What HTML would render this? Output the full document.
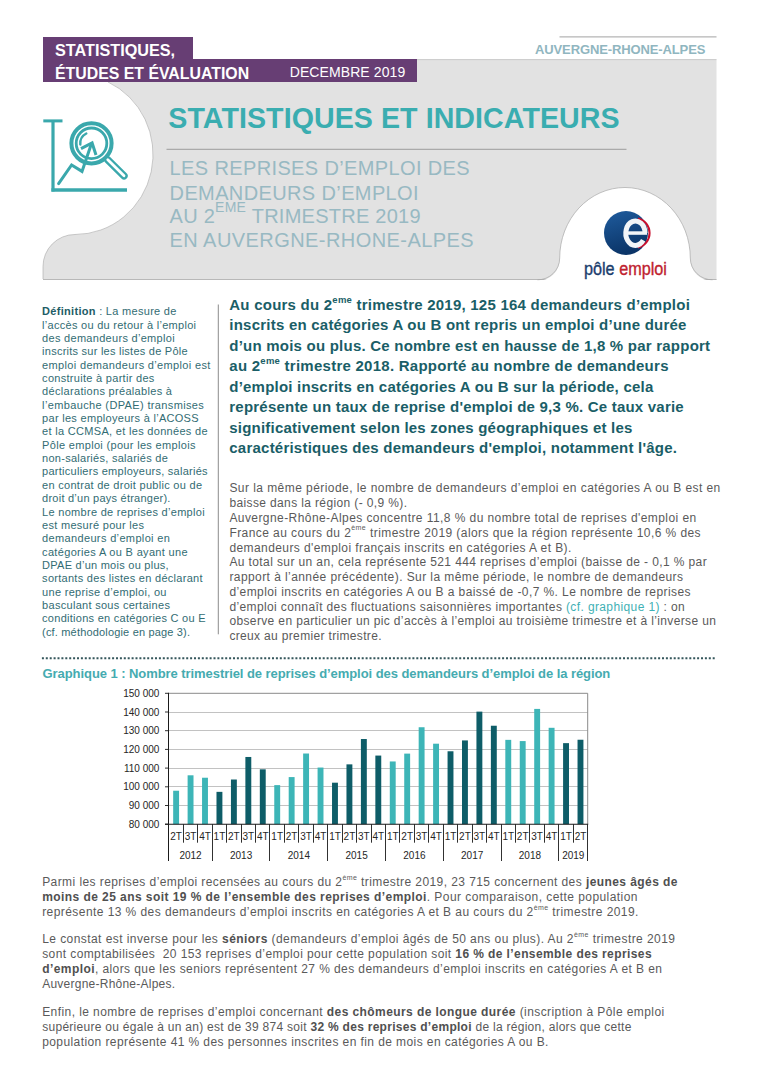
<!DOCTYPE html>
<html><head><meta charset="utf-8">
<style>
html,body{margin:0;padding:0;background:#fff;}
body{width:768px;height:1087px;position:relative;overflow:hidden;font-family:"Liberation Sans",sans-serif;}
.ln{position:absolute;white-space:nowrap;line-height:0;}
.ln b{font-weight:bold;}
.bot b{color:#505050;}
.sup{position:relative;}
svg{position:absolute;left:0;top:0;}
</style></head><body>
<svg width="768" height="1087" viewBox="0 0 768 1087" style="z-index:0">
<defs>
<linearGradient id="blu" x1="0" y1="0" x2="0.3" y2="1">
<stop offset="0" stop-color="#1f5c9e"/><stop offset="1" stop-color="#0b3568"/>
</linearGradient>
</defs>
<!-- gray band -->
<rect x="43" y="59.5" width="673.5" height="220.5" fill="#e2e2e2"/>
<line x1="43" y1="279.5" x2="716.5" y2="279.5" stroke="#b8b8b8" stroke-width="1"/>
<line x1="417" y1="59.6" x2="716.5" y2="59.6" stroke="#cacaca" stroke-width="1"/>
<!-- left white blob -->
<path d="M 0 82 L 108 82 A 78 80 0 0 1 75 234.5 A 32 32 0 0 0 43 266.5 L 43 281 L 0 281 Z" fill="#fff"/>
<path d="M 108 82 A 78 80 0 0 1 75 234.5 A 32 32 0 0 0 43 266.5 L 43 279" fill="none" stroke="#a8a8a8" stroke-width="0.6"/>
<!-- right dome -->
<path d="M 537.5 281 A 22 22 0 0 0 559.7 258 A 65.3 70.5 0 0 1 690.3 258 A 22 22 0 0 0 712.5 281 Z" fill="#fff"/>
<path d="M 537.5 279.8 A 22 21.8 0 0 0 559.7 258 A 65.3 70.5 0 0 1 690.3 258 A 22 21.8 0 0 0 712.5 279.8" fill="none" stroke="#a8a8a8" stroke-width="0.7"/>
<!-- purple header -->
<rect x="43" y="37" width="150" height="23" fill="#673e74"/>
<rect x="43" y="59" width="374" height="23" fill="#673e74"/>
<!-- top right line -->
<line x1="559.5" y1="36.8" x2="716.5" y2="36.8" stroke="#b5b5b5" stroke-width="1.2"/>
<!-- title rule -->
<line x1="166.5" y1="149.3" x2="626.5" y2="149.3" stroke="#8c8c8c" stroke-width="0.8"/>
<!-- vertical divider -->
<line x1="218.3" y1="304.5" x2="218.3" y2="634.3" stroke="#6e6e6e" stroke-width="0.8"/>
<!-- dotted line -->
<line x1="41.9" y1="658.3" x2="715.5" y2="658.3" stroke="#34565b" stroke-width="2" stroke-dasharray="2 1.9"/>
<g fill="none" stroke="#3aa8ac" stroke-linecap="butt">
<line x1="43.3" y1="120.9" x2="62.5" y2="120.9" stroke-width="3"/>
<line x1="53" y1="120.9" x2="53" y2="191.5" stroke-width="3.2"/>
<line x1="51.4" y1="190" x2="127" y2="190" stroke-width="3.3"/>
<circle cx="91.5" cy="143.3" r="20.1" stroke-width="4"/>
<circle cx="91.5" cy="143.3" r="15.3" stroke-width="2.8"/>
<path d="M 80.3 144.5 A 11.3 11.3 0 0 1 86.3 133.5" stroke-width="2.4" stroke-linecap="round"/>
<polyline points="58.6,183.6 71.6,165 82,171.4 91,145" stroke-width="3" stroke-linejoin="miter" stroke-linecap="round"/>
<polyline points="81,148.7 92.1,143 96,155" stroke-width="3" stroke-linejoin="miter"/>
<path d="M 107.8 159.8 L 124 175.8" stroke-width="7.4" stroke-linecap="round"/>
<path d="M 107.8 159.8 L 124 175.8" stroke="#fff" stroke-width="2.8" stroke-linecap="round"/>
</g>
<g>
<circle cx="626" cy="233" r="22" fill="url(#blu)"/>
<path d="M 638 218.5 A 14.5 14.8 0 0 1 638 247.5" fill="none" stroke="#c8102e" stroke-width="2"/>
<path d="M 645 233 A 9.6 12.2 0 1 0 643.2 240.3" fill="none" stroke="#f2f5f8" stroke-width="5"/>
<rect x="628" y="231.3" width="19" height="3.5" fill="#f2f5f8"/>
</g>
</svg>
<div style="position:absolute;left:584px;top:268.8px;font-size:18px;line-height:0;white-space:nowrap;transform:scaleX(0.9);transform-origin:0 0;-webkit-text-stroke:0.35px"><span style="color:#1b3d6d;-webkit-text-stroke-color:#1b3d6d">pôle</span> <span style="color:#c0222f;-webkit-text-stroke-color:#c0222f">emploi</span></div>
<svg width="768" height="1087" viewBox="0 0 768 1087" style="z-index:1">
<line x1="168.9" y1="805.50" x2="587.7" y2="805.50" stroke="#b3b3b3" stroke-width="0.8"/>
<line x1="168.9" y1="786.50" x2="587.7" y2="786.50" stroke="#b3b3b3" stroke-width="0.8"/>
<line x1="168.9" y1="768.50" x2="587.7" y2="768.50" stroke="#b3b3b3" stroke-width="0.8"/>
<line x1="168.9" y1="749.50" x2="587.7" y2="749.50" stroke="#b3b3b3" stroke-width="0.8"/>
<line x1="168.9" y1="730.50" x2="587.7" y2="730.50" stroke="#b3b3b3" stroke-width="0.8"/>
<line x1="168.9" y1="712.50" x2="587.7" y2="712.50" stroke="#b3b3b3" stroke-width="0.8"/>
<line x1="168.9" y1="693.3" x2="587.7" y2="693.3" stroke="#8a8a8a" stroke-width="1"/>
<line x1="587.7" y1="693.3" x2="587.7" y2="824.2" stroke="#8a8a8a" stroke-width="1"/>
<rect x="173.17" y="790.73" width="5.9" height="33.47" fill="#3db5b7"/>
<rect x="187.61" y="775.30" width="5.9" height="48.90" fill="#3db5b7"/>
<rect x="202.05" y="777.73" width="5.9" height="46.47" fill="#3db5b7"/>
<rect x="216.49" y="791.85" width="5.9" height="32.35" fill="#0e5d68"/>
<rect x="230.94" y="779.51" width="5.9" height="44.69" fill="#0e5d68"/>
<rect x="245.38" y="756.97" width="5.9" height="67.23" fill="#0e5d68"/>
<rect x="259.82" y="769.32" width="5.9" height="54.88" fill="#0e5d68"/>
<rect x="274.26" y="785.12" width="5.9" height="39.08" fill="#3db5b7"/>
<rect x="288.70" y="777.08" width="5.9" height="47.12" fill="#3db5b7"/>
<rect x="303.14" y="753.51" width="5.9" height="70.69" fill="#3db5b7"/>
<rect x="317.58" y="767.54" width="5.9" height="56.66" fill="#3db5b7"/>
<rect x="332.03" y="782.69" width="5.9" height="41.51" fill="#0e5d68"/>
<rect x="346.47" y="764.36" width="5.9" height="59.84" fill="#0e5d68"/>
<rect x="360.91" y="739.02" width="5.9" height="85.18" fill="#0e5d68"/>
<rect x="375.35" y="755.57" width="5.9" height="68.63" fill="#0e5d68"/>
<rect x="389.79" y="761.46" width="5.9" height="62.74" fill="#3db5b7"/>
<rect x="404.23" y="753.61" width="5.9" height="70.59" fill="#3db5b7"/>
<rect x="418.67" y="727.24" width="5.9" height="96.96" fill="#3db5b7"/>
<rect x="433.12" y="743.70" width="5.9" height="80.50" fill="#3db5b7"/>
<rect x="447.56" y="751.27" width="5.9" height="72.93" fill="#0e5d68"/>
<rect x="462.00" y="740.42" width="5.9" height="83.78" fill="#0e5d68"/>
<rect x="476.44" y="711.63" width="5.9" height="112.57" fill="#0e5d68"/>
<rect x="490.88" y="725.74" width="5.9" height="98.46" fill="#0e5d68"/>
<rect x="505.32" y="739.86" width="5.9" height="84.34" fill="#3db5b7"/>
<rect x="519.76" y="741.08" width="5.9" height="83.12" fill="#3db5b7"/>
<rect x="534.21" y="708.91" width="5.9" height="115.29" fill="#3db5b7"/>
<rect x="548.65" y="727.80" width="5.9" height="96.40" fill="#3db5b7"/>
<rect x="563.09" y="743.14" width="5.9" height="81.06" fill="#0e5d68"/>
<rect x="577.53" y="739.74" width="5.9" height="84.46" fill="#0e5d68"/>
<line x1="168.5" y1="692.8" x2="168.5" y2="861" stroke="#1a1a1a" stroke-width="1"/>
<line x1="165" y1="824.20" x2="168.9" y2="824.20" stroke="#1a1a1a" stroke-width="0.9"/>
<line x1="165" y1="805.50" x2="168.9" y2="805.50" stroke="#1a1a1a" stroke-width="0.9"/>
<line x1="165" y1="786.80" x2="168.9" y2="786.80" stroke="#1a1a1a" stroke-width="0.9"/>
<line x1="165" y1="768.10" x2="168.9" y2="768.10" stroke="#1a1a1a" stroke-width="0.9"/>
<line x1="165" y1="749.40" x2="168.9" y2="749.40" stroke="#1a1a1a" stroke-width="0.9"/>
<line x1="165" y1="730.70" x2="168.9" y2="730.70" stroke="#1a1a1a" stroke-width="0.9"/>
<line x1="165" y1="712.00" x2="168.9" y2="712.00" stroke="#1a1a1a" stroke-width="0.9"/>
<line x1="165" y1="693.30" x2="168.9" y2="693.30" stroke="#1a1a1a" stroke-width="0.9"/>
<line x1="165" y1="824.2" x2="588.2" y2="824.2" stroke="#1a1a1a" stroke-width="1.1"/>
<line x1="183.50" y1="824.2" x2="183.50" y2="842.7" stroke="#1a1a1a" stroke-width="0.9"/>
<line x1="197.50" y1="824.2" x2="197.50" y2="842.7" stroke="#1a1a1a" stroke-width="0.9"/>
<line x1="212.50" y1="824.2" x2="212.50" y2="861" stroke="#1a1a1a" stroke-width="0.9"/>
<line x1="226.50" y1="824.2" x2="226.50" y2="842.7" stroke="#1a1a1a" stroke-width="0.9"/>
<line x1="241.50" y1="824.2" x2="241.50" y2="842.7" stroke="#1a1a1a" stroke-width="0.9"/>
<line x1="255.50" y1="824.2" x2="255.50" y2="842.7" stroke="#1a1a1a" stroke-width="0.9"/>
<line x1="269.50" y1="824.2" x2="269.50" y2="861" stroke="#1a1a1a" stroke-width="0.9"/>
<line x1="284.50" y1="824.2" x2="284.50" y2="842.7" stroke="#1a1a1a" stroke-width="0.9"/>
<line x1="298.50" y1="824.2" x2="298.50" y2="842.7" stroke="#1a1a1a" stroke-width="0.9"/>
<line x1="313.50" y1="824.2" x2="313.50" y2="842.7" stroke="#1a1a1a" stroke-width="0.9"/>
<line x1="327.50" y1="824.2" x2="327.50" y2="861" stroke="#1a1a1a" stroke-width="0.9"/>
<line x1="342.50" y1="824.2" x2="342.50" y2="842.7" stroke="#1a1a1a" stroke-width="0.9"/>
<line x1="356.50" y1="824.2" x2="356.50" y2="842.7" stroke="#1a1a1a" stroke-width="0.9"/>
<line x1="371.50" y1="824.2" x2="371.50" y2="842.7" stroke="#1a1a1a" stroke-width="0.9"/>
<line x1="385.50" y1="824.2" x2="385.50" y2="861" stroke="#1a1a1a" stroke-width="0.9"/>
<line x1="399.50" y1="824.2" x2="399.50" y2="842.7" stroke="#1a1a1a" stroke-width="0.9"/>
<line x1="414.50" y1="824.2" x2="414.50" y2="842.7" stroke="#1a1a1a" stroke-width="0.9"/>
<line x1="428.50" y1="824.2" x2="428.50" y2="842.7" stroke="#1a1a1a" stroke-width="0.9"/>
<line x1="443.50" y1="824.2" x2="443.50" y2="861" stroke="#1a1a1a" stroke-width="0.9"/>
<line x1="457.50" y1="824.2" x2="457.50" y2="842.7" stroke="#1a1a1a" stroke-width="0.9"/>
<line x1="472.50" y1="824.2" x2="472.50" y2="842.7" stroke="#1a1a1a" stroke-width="0.9"/>
<line x1="486.50" y1="824.2" x2="486.50" y2="842.7" stroke="#1a1a1a" stroke-width="0.9"/>
<line x1="501.50" y1="824.2" x2="501.50" y2="861" stroke="#1a1a1a" stroke-width="0.9"/>
<line x1="515.50" y1="824.2" x2="515.50" y2="842.7" stroke="#1a1a1a" stroke-width="0.9"/>
<line x1="529.50" y1="824.2" x2="529.50" y2="842.7" stroke="#1a1a1a" stroke-width="0.9"/>
<line x1="544.50" y1="824.2" x2="544.50" y2="842.7" stroke="#1a1a1a" stroke-width="0.9"/>
<line x1="558.50" y1="824.2" x2="558.50" y2="861" stroke="#1a1a1a" stroke-width="0.9"/>
<line x1="573.50" y1="824.2" x2="573.50" y2="842.7" stroke="#1a1a1a" stroke-width="0.9"/>
<line x1="587.50" y1="824.2" x2="587.50" y2="861" stroke="#1a1a1a" stroke-width="0.9"/>
<text x="176.12" y="839.9" font-size="10" text-anchor="middle" fill="#262626" font-family="Liberation Sans">2T</text>
<text x="190.56" y="839.9" font-size="10" text-anchor="middle" fill="#262626" font-family="Liberation Sans">3T</text>
<text x="205.00" y="839.9" font-size="10" text-anchor="middle" fill="#262626" font-family="Liberation Sans">4T</text>
<text x="219.44" y="839.9" font-size="10" text-anchor="middle" fill="#262626" font-family="Liberation Sans">1T</text>
<text x="233.89" y="839.9" font-size="10" text-anchor="middle" fill="#262626" font-family="Liberation Sans">2T</text>
<text x="248.33" y="839.9" font-size="10" text-anchor="middle" fill="#262626" font-family="Liberation Sans">3T</text>
<text x="262.77" y="839.9" font-size="10" text-anchor="middle" fill="#262626" font-family="Liberation Sans">4T</text>
<text x="277.21" y="839.9" font-size="10" text-anchor="middle" fill="#262626" font-family="Liberation Sans">1T</text>
<text x="291.65" y="839.9" font-size="10" text-anchor="middle" fill="#262626" font-family="Liberation Sans">2T</text>
<text x="306.09" y="839.9" font-size="10" text-anchor="middle" fill="#262626" font-family="Liberation Sans">3T</text>
<text x="320.53" y="839.9" font-size="10" text-anchor="middle" fill="#262626" font-family="Liberation Sans">4T</text>
<text x="334.98" y="839.9" font-size="10" text-anchor="middle" fill="#262626" font-family="Liberation Sans">1T</text>
<text x="349.42" y="839.9" font-size="10" text-anchor="middle" fill="#262626" font-family="Liberation Sans">2T</text>
<text x="363.86" y="839.9" font-size="10" text-anchor="middle" fill="#262626" font-family="Liberation Sans">3T</text>
<text x="378.30" y="839.9" font-size="10" text-anchor="middle" fill="#262626" font-family="Liberation Sans">4T</text>
<text x="392.74" y="839.9" font-size="10" text-anchor="middle" fill="#262626" font-family="Liberation Sans">1T</text>
<text x="407.18" y="839.9" font-size="10" text-anchor="middle" fill="#262626" font-family="Liberation Sans">2T</text>
<text x="421.62" y="839.9" font-size="10" text-anchor="middle" fill="#262626" font-family="Liberation Sans">3T</text>
<text x="436.07" y="839.9" font-size="10" text-anchor="middle" fill="#262626" font-family="Liberation Sans">4T</text>
<text x="450.51" y="839.9" font-size="10" text-anchor="middle" fill="#262626" font-family="Liberation Sans">1T</text>
<text x="464.95" y="839.9" font-size="10" text-anchor="middle" fill="#262626" font-family="Liberation Sans">2T</text>
<text x="479.39" y="839.9" font-size="10" text-anchor="middle" fill="#262626" font-family="Liberation Sans">3T</text>
<text x="493.83" y="839.9" font-size="10" text-anchor="middle" fill="#262626" font-family="Liberation Sans">4T</text>
<text x="508.27" y="839.9" font-size="10" text-anchor="middle" fill="#262626" font-family="Liberation Sans">1T</text>
<text x="522.71" y="839.9" font-size="10" text-anchor="middle" fill="#262626" font-family="Liberation Sans">2T</text>
<text x="537.16" y="839.9" font-size="10" text-anchor="middle" fill="#262626" font-family="Liberation Sans">3T</text>
<text x="551.60" y="839.9" font-size="10" text-anchor="middle" fill="#262626" font-family="Liberation Sans">4T</text>
<text x="566.04" y="839.9" font-size="10" text-anchor="middle" fill="#262626" font-family="Liberation Sans">1T</text>
<text x="580.48" y="839.9" font-size="10" text-anchor="middle" fill="#262626" font-family="Liberation Sans">2T</text>
<text x="190.56" y="858.8" font-size="10" text-anchor="middle" fill="#262626" font-family="Liberation Sans">2012</text>
<text x="241.11" y="858.8" font-size="10" text-anchor="middle" fill="#262626" font-family="Liberation Sans">2013</text>
<text x="298.87" y="858.8" font-size="10" text-anchor="middle" fill="#262626" font-family="Liberation Sans">2014</text>
<text x="356.64" y="858.8" font-size="10" text-anchor="middle" fill="#262626" font-family="Liberation Sans">2015</text>
<text x="414.40" y="858.8" font-size="10" text-anchor="middle" fill="#262626" font-family="Liberation Sans">2016</text>
<text x="472.17" y="858.8" font-size="10" text-anchor="middle" fill="#262626" font-family="Liberation Sans">2017</text>
<text x="529.93" y="858.8" font-size="10" text-anchor="middle" fill="#262626" font-family="Liberation Sans">2018</text>
<text x="573.26" y="858.8" font-size="10" text-anchor="middle" fill="#262626" font-family="Liberation Sans">2019</text>
<text x="159.4" y="827.80" font-size="10" text-anchor="end" fill="#262626" font-family="Liberation Sans">80 000</text>
<text x="159.4" y="809.10" font-size="10" text-anchor="end" fill="#262626" font-family="Liberation Sans">90 000</text>
<text x="159.4" y="790.40" font-size="10" text-anchor="end" fill="#262626" font-family="Liberation Sans">100 000</text>
<text x="159.4" y="771.70" font-size="10" text-anchor="end" fill="#262626" font-family="Liberation Sans">110 000</text>
<text x="159.4" y="753.00" font-size="10" text-anchor="end" fill="#262626" font-family="Liberation Sans">120 000</text>
<text x="159.4" y="734.30" font-size="10" text-anchor="end" fill="#262626" font-family="Liberation Sans">130 000</text>
<text x="159.4" y="715.60" font-size="10" text-anchor="end" fill="#262626" font-family="Liberation Sans">140 000</text>
<text x="159.4" y="696.90" font-size="10" text-anchor="end" fill="#262626" font-family="Liberation Sans">150 000</text>
</svg>
<div class="ln " id="l0" style="left:42.1px;top:311.29px;font-size:11px;color:#326c73;letter-spacing:0.298px;z-index:2"><b style="color:#1e5d66">Définition</b> : La mesure de</div>
<div class="ln " id="l1" style="left:42.1px;top:324.64px;font-size:11px;color:#326c73;letter-spacing:0.279px;z-index:2">l’accès ou du retour à l’emploi</div>
<div class="ln " id="l2" style="left:42.1px;top:337.99px;font-size:11px;color:#326c73;letter-spacing:0.297px;z-index:2">des demandeurs d’emploi</div>
<div class="ln " id="l3" style="left:42.1px;top:351.34px;font-size:11px;color:#326c73;letter-spacing:0.244px;z-index:2">inscrits sur les listes de Pôle</div>
<div class="ln " id="l4" style="left:42.1px;top:364.69px;font-size:11px;color:#326c73;letter-spacing:0.339px;z-index:2">emploi demandeurs d’emploi est</div>
<div class="ln " id="l5" style="left:42.1px;top:378.04px;font-size:11px;color:#326c73;letter-spacing:0.292px;z-index:2">construite à partir des</div>
<div class="ln " id="l6" style="left:42.1px;top:391.39px;font-size:11px;color:#326c73;letter-spacing:0.316px;z-index:2">déclarations préalables à</div>
<div class="ln " id="l7" style="left:42.1px;top:404.74px;font-size:11px;color:#326c73;letter-spacing:0.359px;z-index:2">l’embauche (DPAE) transmises</div>
<div class="ln " id="l8" style="left:42.1px;top:418.09px;font-size:11px;color:#326c73;letter-spacing:0.294px;z-index:2">par les employeurs à l’ACOSS</div>
<div class="ln " id="l9" style="left:42.1px;top:431.44px;font-size:11px;color:#326c73;letter-spacing:0.309px;z-index:2">et la CCMSA, et les données de</div>
<div class="ln " id="l10" style="left:42.1px;top:444.79px;font-size:11px;color:#326c73;letter-spacing:0.322px;z-index:2">Pôle emploi (pour les emplois</div>
<div class="ln " id="l11" style="left:42.1px;top:458.14px;font-size:11px;color:#326c73;letter-spacing:0.269px;z-index:2">non-salariés, salariés de</div>
<div class="ln " id="l12" style="left:42.1px;top:471.49px;font-size:11px;color:#326c73;letter-spacing:0.262px;z-index:2">particuliers employeurs, salariés</div>
<div class="ln " id="l13" style="left:42.1px;top:484.84px;font-size:11px;color:#326c73;letter-spacing:0.286px;z-index:2">en contrat de droit public ou de</div>
<div class="ln " id="l14" style="left:42.1px;top:498.19px;font-size:11px;color:#326c73;letter-spacing:0.240px;z-index:2">droit d’un pays étranger).</div>
<div class="ln " id="l15" style="left:42.1px;top:511.54px;font-size:11px;color:#326c73;letter-spacing:0.290px;z-index:2">Le nombre de reprises d’emploi</div>
<div class="ln " id="l16" style="left:42.1px;top:524.89px;font-size:11px;color:#326c73;letter-spacing:0.288px;z-index:2">est mesuré pour les</div>
<div class="ln " id="l17" style="left:42.1px;top:538.24px;font-size:11px;color:#326c73;letter-spacing:0.349px;z-index:2">demandeurs d’emploi en</div>
<div class="ln " id="l18" style="left:42.1px;top:551.59px;font-size:11px;color:#326c73;letter-spacing:0.327px;z-index:2">catégories A ou B ayant une</div>
<div class="ln " id="l19" style="left:42.1px;top:564.94px;font-size:11px;color:#326c73;letter-spacing:0.256px;z-index:2">DPAE d’un mois ou plus,</div>
<div class="ln " id="l20" style="left:42.1px;top:578.29px;font-size:11px;color:#326c73;letter-spacing:0.283px;z-index:2">sortants des listes en déclarant</div>
<div class="ln " id="l21" style="left:42.1px;top:591.64px;font-size:11px;color:#326c73;letter-spacing:0.304px;z-index:2">une reprise d’emploi, ou</div>
<div class="ln " id="l22" style="left:42.1px;top:604.99px;font-size:11px;color:#326c73;letter-spacing:0.292px;z-index:2">basculant sous certaines</div>
<div class="ln " id="l23" style="left:42.1px;top:618.34px;font-size:11px;color:#326c73;letter-spacing:0.272px;z-index:2">conditions en catégories C ou E</div>
<div class="ln " id="l24" style="left:42.1px;top:631.69px;font-size:11px;color:#326c73;letter-spacing:0.172px;z-index:2">(cf. méthodologie en page 3).</div>
<div class="ln " id="l25" style="left:229.3px;top:304.80px;font-size:15px;color:#1a5e67;font-weight:bold;letter-spacing:0.234px;z-index:2">Au cours du 2<span class="sup" style="font-size:9.5px;top:-7.3px">eme</span> trimestre 2019, 125 164 demandeurs d’emploi</div>
<div class="ln " id="l26" style="left:229.3px;top:325.30px;font-size:15px;color:#1a5e67;font-weight:bold;letter-spacing:0.229px;z-index:2">inscrits en catégories A ou B ont repris un emploi d’une durée</div>
<div class="ln " id="l27" style="left:229.3px;top:345.80px;font-size:15px;color:#1a5e67;font-weight:bold;letter-spacing:0.226px;z-index:2">d’un mois ou plus. Ce nombre est en hausse de 1,8 % par rapport</div>
<div class="ln " id="l28" style="left:229.3px;top:366.30px;font-size:15px;color:#1a5e67;font-weight:bold;letter-spacing:0.258px;z-index:2">au 2<span class="sup" style="font-size:9.5px;top:-7.3px">eme</span> trimestre 2018. Rapporté au nombre de demandeurs</div>
<div class="ln " id="l29" style="left:229.3px;top:386.80px;font-size:15px;color:#1a5e67;font-weight:bold;letter-spacing:0.214px;z-index:2">d’emploi inscrits en catégories A ou B sur la période, cela</div>
<div class="ln " id="l30" style="left:229.3px;top:407.30px;font-size:15px;color:#1a5e67;font-weight:bold;letter-spacing:0.216px;z-index:2">représente un taux de reprise d'emploi de 9,3 %. Ce taux varie</div>
<div class="ln " id="l31" style="left:229.3px;top:427.80px;font-size:15px;color:#1a5e67;font-weight:bold;letter-spacing:0.212px;z-index:2">significativement selon les zones géographiques et les</div>
<div class="ln " id="l32" style="left:229.3px;top:448.30px;font-size:15px;color:#1a5e67;font-weight:bold;letter-spacing:0.225px;z-index:2">caractéristiques des demandeurs d'emploi, notamment l'âge.</div>
<div class="ln " id="l33" style="left:229.4px;top:488.34px;font-size:12px;color:#5a5a5a;letter-spacing:0.441px;z-index:2">Sur la même période, le nombre de demandeurs d’emploi en catégories A ou B est en</div>
<div class="ln " id="l34" style="left:229.4px;top:503.13px;font-size:12px;color:#5a5a5a;letter-spacing:0.371px;z-index:2">baisse dans la région (- 0,9 %).</div>
<div class="ln " id="l35" style="left:229.4px;top:517.92px;font-size:12px;color:#5a5a5a;letter-spacing:0.427px;z-index:2">Auvergne-Rhône-Alpes concentre 11,8 % du nombre total de reprises d'emploi en</div>
<div class="ln " id="l36" style="left:229.4px;top:532.71px;font-size:12px;color:#5a5a5a;letter-spacing:0.425px;z-index:2">France au cours du 2<span class="sup" style="font-size:7px;top:-6.3px">ème</span> trimestre 2019 (alors que la région représente 10,6 % des</div>
<div class="ln " id="l37" style="left:229.4px;top:547.50px;font-size:12px;color:#5a5a5a;letter-spacing:0.409px;z-index:2">demandeurs d'emploi français inscrits en catégories A et B).</div>
<div class="ln " id="l38" style="left:229.4px;top:562.29px;font-size:12px;color:#5a5a5a;letter-spacing:0.390px;z-index:2">Au total sur un an, cela représente 521 444 reprises d’emploi (baisse de - 0,1 % par</div>
<div class="ln " id="l39" style="left:229.4px;top:577.08px;font-size:12px;color:#5a5a5a;letter-spacing:0.424px;z-index:2">rapport à l’année précédente). Sur la même période, le nombre de demandeurs</div>
<div class="ln " id="l40" style="left:229.4px;top:591.87px;font-size:12px;color:#5a5a5a;letter-spacing:0.416px;z-index:2">d’emploi inscrits en catégories A ou B a baissé de -0,7 %. Le nombre de reprises</div>
<div class="ln " id="l41" style="left:229.4px;top:606.66px;font-size:12px;color:#5a5a5a;letter-spacing:0.380px;z-index:2">d’emploi connaît des fluctuations saisonnières importantes <span style="color:#3fb1b5">(cf. graphique 1)</span> : on</div>
<div class="ln " id="l42" style="left:229.4px;top:621.45px;font-size:12px;color:#5a5a5a;letter-spacing:0.367px;z-index:2">observe en particulier un pic d’accès à l’emploi au troisième trimestre et à l’inverse un</div>
<div class="ln " id="l43" style="left:229.4px;top:636.24px;font-size:12px;color:#5a5a5a;letter-spacing:0.336px;z-index:2">creux au premier trimestre.</div>
<div class="ln bot" id="l44" style="left:42.2px;top:882.14px;font-size:12px;color:#5a5a5a;letter-spacing:0.421px;z-index:2">Parmi les reprises d’emploi recensées au cours du 2<span class="sup" style="font-size:7px;top:-6.3px">ème</span> trimestre 2019, 23 715 concernent des <b>jeunes âgés de</b></div>
<div class="ln bot" id="l45" style="left:42.2px;top:897.14px;font-size:12px;color:#5a5a5a;letter-spacing:0.434px;z-index:2"><b>moins de 25 ans soit 19 % de l’ensemble des reprises d’emploi</b>. Pour comparaison, cette population</div>
<div class="ln bot" id="l46" style="left:42.2px;top:912.14px;font-size:12px;color:#5a5a5a;letter-spacing:0.432px;z-index:2">représente 13 % des demandeurs d’emploi inscrits en catégories A et B au cours du 2<span class="sup" style="font-size:7px;top:-6.3px">ème</span> trimestre 2019.</div>
<div class="ln bot" id="l47" style="left:42.2px;top:939.04px;font-size:12px;color:#5a5a5a;letter-spacing:0.431px;z-index:2">Le constat est inverse pour les <b>séniors</b> (demandeurs d’emploi âgés de 50 ans ou plus). Au 2<span class="sup" style="font-size:7px;top:-6.3px">ème</span> trimestre 2019</div>
<div class="ln bot" id="l48" style="left:42.2px;top:953.94px;font-size:12px;color:#5a5a5a;letter-spacing:0.405px;z-index:2">sont comptabilisées &nbsp;20 153 reprises d’emploi pour cette population soit <b>16 % de l’ensemble des reprises</b></div>
<div class="ln bot" id="l49" style="left:42.2px;top:968.84px;font-size:12px;color:#5a5a5a;letter-spacing:0.420px;z-index:2"><b>d’emploi</b>, alors que les seniors représentent 27 % des demandeurs d’emploi inscrits en catégories A et B en</div>
<div class="ln bot" id="l50" style="left:42.2px;top:983.74px;font-size:12px;color:#5a5a5a;letter-spacing:0.241px;z-index:2">Auvergne-Rhône-Alpes.</div>
<div class="ln bot" id="l51" style="left:42.2px;top:1011.84px;font-size:12px;color:#5a5a5a;letter-spacing:0.418px;z-index:2">Enfin, le nombre de reprises d’emploi concernant <b>des chômeurs de longue durée</b> (inscription à Pôle emploi</div>
<div class="ln bot" id="l52" style="left:42.2px;top:1026.74px;font-size:12px;color:#5a5a5a;letter-spacing:0.280px;z-index:2">supérieure ou égale à un an) est de 39 874 soit <b>32 % des reprises d’emploi</b> de la région, alors que cette</div>
<div class="ln bot" id="l53" style="left:42.2px;top:1041.64px;font-size:12px;color:#5a5a5a;letter-spacing:0.410px;z-index:2">population représente 41 % des personnes inscrites en fin de mois en catégories A ou B.</div>
<div class="ln " id="l54" style="left:169.6px;top:168.47px;font-size:20px;color:#98b9c2;letter-spacing:0.367px;z-index:2">LES REPRISES D’EMPLOI DES</div>
<div class="ln " id="l55" style="left:169.6px;top:192.67px;font-size:20px;color:#98b9c2;letter-spacing:0.374px;z-index:2">DEMANDEURS D’EMPLOI</div>
<div class="ln " id="l56" style="left:169.6px;top:216.17px;font-size:20px;color:#98b9c2;letter-spacing:0.256px;z-index:2">AU 2<span class="sup" style="font-size:14px;top:-10.8px">EME</span> TRIMESTRE 2019</div>
<div class="ln " id="l57" style="left:169.6px;top:239.57px;font-size:20px;color:#98b9c2;letter-spacing:0.431px;z-index:2">EN AUVERGNE-RHONE-ALPES</div>
<div class="ln " id="l58" style="left:55px;top:50.34px;font-size:17.2px;color:#fff;font-weight:bold;transform:scaleX(0.9432);transform-origin:0 0;z-index:2">STATISTIQUES,</div>
<div class="ln " id="l59" style="left:55px;top:72.74px;font-size:17.2px;color:#fff;font-weight:bold;transform:scaleX(0.9225);transform-origin:0 0;z-index:2">ÉTUDES ET ÉVALUATION</div>
<div class="ln " id="l60" style="left:289.7px;top:72.15px;font-size:14px;color:#fff;letter-spacing:0.092px;z-index:2">DECEMBRE 2019</div>
<div class="ln " id="l61" style="left:535px;top:50.20px;font-size:13px;color:#90b6c0;font-weight:bold;letter-spacing:-0.117px;z-index:2">AUVERGNE-RHONE-ALPES</div>
<div class="ln " id="l62" style="left:168.3px;top:117.99px;font-size:28.6px;color:#3aadb0;font-weight:bold;letter-spacing:0.066px;z-index:2">STATISTIQUES ET INDICATEURS</div>
<div class="ln " id="l63" style="left:42.5px;top:673.60px;font-size:13px;color:#45abb0;font-weight:bold;letter-spacing:-0.065px;z-index:2">Graphique 1 : Nombre trimestriel de reprises d’emploi des demandeurs d’emploi de la région</div>
</body></html>
